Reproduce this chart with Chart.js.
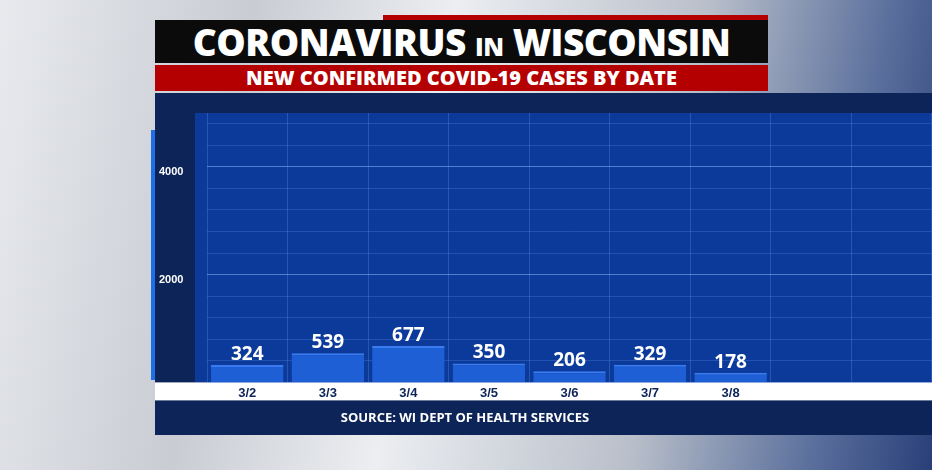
<!DOCTYPE html>
<html><head><meta charset="utf-8">
<script src="https://cdn.jsdelivr.net/npm/chart.js@4"></script>
<style>
body{margin:0;width:932px;height:470px;overflow:hidden;font-family:"Open Sans",Roboto,sans-serif;
background:linear-gradient(100deg,#e8eaee 0%,#c9ccd3 25%,#eceef1 45%,#b9bfca 70%,#5a6f9c 88%,#2a3f78 100%);position:relative}
.t{position:absolute;left:155px;top:20px;width:613px;height:43px;background:#0b0b0b;color:#fff;font-weight:800;font-size:37px;text-align:center;line-height:44px;letter-spacing:-0.5px}
.t small{font-size:25px}
.r{position:absolute;left:155px;top:65px;width:613px;height:26px;background:#b40000;color:#fff;font-weight:800;font-size:20px;text-align:center;line-height:26px}
.r2{position:absolute;left:383px;top:15px;width:385px;height:5px;background:#b40000}
#wrap{position:absolute;left:155px;top:93px;width:777px;height:342px;background:#0d2459}
.acc{position:absolute;left:151px;top:130px;width:4px;height:250px;background:#1e6ee6}
.src{position:absolute;left:155px;top:400px;width:620px;height:35px;color:#fff;font-weight:700;font-size:13px;text-align:center;line-height:35px}
</style></head><body>
<div class="r2"></div>
<div class="t">CORONAVIRUS <small>IN</small> WISCONSIN</div>
<div class="r">NEW CONFIRMED COVID-19 CASES BY DATE</div>
<div id="wrap"><canvas id="c" width="777" height="342"></canvas></div>
<div class="acc"></div>
<div class="src">SOURCE: WI DEPT OF HEALTH SERVICES</div>
<script>
const categories=["3/2","3/3","3/4","3/5","3/6","3/7","3/8","",""];
const cases=[324,539,677,350,206,329,178,null,null];
const yTicks=[1000,2000,3000,4000,5000];
const deco={id:'deco',beforeDraw(ch){const c=ch.ctx,a=ch.chartArea;c.save();c.fillStyle='#0b3a9a';c.fillRect(a.left-12,a.top,a.right-a.left+12,a.bottom-a.top);
c.fillStyle='#fff';c.fillRect(0,a.bottom,ch.width,18);c.restore();},
afterDatasetsDraw(ch){const c=ch.ctx;const m=ch.getDatasetMeta(0);c.save();c.fillStyle='#fff';c.font='bold 19px "Open Sans",sans-serif';c.textAlign='center';c.textBaseline='bottom';
m.data.forEach((b,i)=>{if(cases[i]!=null)c.fillText(cases[i],b.x,b.y-1);});c.restore();}};
new Chart(document.getElementById('c'),{type:'bar',data:{labels:categories,datasets:[{data:cases,backgroundColor:'#1f5fd6',borderColor:'#3a7cf0',borderWidth:{top:2,left:0,right:0,bottom:0},barPercentage:0.9,categoryPercentage:1}]},
options:{responsive:false,animation:false,layout:{padding:{left:4,top:20,right:0,bottom:31}},plugins:{legend:{display:false},tooltip:{enabled:false}},
scales:{x:{grid:{color:'rgba(90,140,230,0.35)',drawTicks:false},border:{display:false},ticks:{color:'#0d2459',font:{weight:'bold',size:13},padding:3}},
y:{min:0,max:5000,grid:{color:c=>c.tick.value%1000===0?'rgba(130,170,240,0.6)':'rgba(90,140,230,0.3)',drawTicks:false},border:{display:false},afterFit(s){s.width=48},
ticks:{stepSize:200,color:'#fff',font:{weight:'bold',size:11},align:'start',padding:0,crossAlign:'far',callback:v=>yTicks.includes(v)?v:''}}}},plugins:[deco]});
</script></body></html>
